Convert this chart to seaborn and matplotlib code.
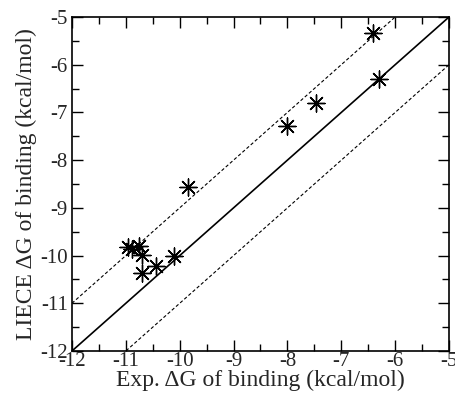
import numpy as np
import pandas as pd
import matplotlib
matplotlib.use('Agg')
import matplotlib.pyplot as plt
import seaborn as sns
from matplotlib.ticker import MultipleLocator

# valores
exp_dg = [-6.41, -6.30, -7.47, -8.00, -9.84, -10.95, -10.89, -10.75, -10.70, -10.70, -10.44, -10.10]
liece_dg = [-5.34, -6.30, -6.81, -7.28, -8.57, -9.83, -9.87, -9.80, -9.98, -10.36, -10.21, -10.01]
limites = [-12, -5]

sns.set_theme(style='ticks')
plt.rcParams['font.family'] = ['Liberation Serif', 'DejaVu Serif']
plt.rcParams['axes.unicode_minus'] = False

df = pd.DataFrame({'exp': exp_dg, 'liece': liece_dg})
df_linha = pd.DataFrame({'x': limites})
df_linha['y'] = df_linha['x']
df_linha['y_sup'] = df_linha['x'] + 1
df_linha['y_inf'] = df_linha['x'] - 1

fig = plt.figure(figsize=(4.55, 3.94), dpi=100)
ax = fig.add_axes([0.158, 0.109, 0.829, 0.848])

# linhas de referência
sns.lineplot(data=df_linha, x='x', y='y', color='black', lw=1.2, ax=ax)
sns.lineplot(data=df_linha, x='x', y='y_sup', color='black', lw=0.8, ax=ax)
sns.lineplot(data=df_linha, x='x', y='y_inf', color='black', lw=0.8, ax=ax)
ax.lines[1].set_dashes([3, 2])
ax.lines[2].set_dashes([3, 2])

# pontos
sns.scatterplot(data=df, x='exp', y='liece', marker=(8, 2, 0), s=150,
                color='black', linewidth=1.0, ax=ax, zorder=3)
sns.scatterplot(data=df, x='exp', y='liece', marker='o', s=6,
                color='black', linewidth=0, ax=ax, zorder=4)

ax.set_xlim(-12, -5)
ax.set_ylim(-12, -5)
ax.xaxis.set_major_locator(MultipleLocator(1))
ax.yaxis.set_major_locator(MultipleLocator(1))
ax.xaxis.set_minor_locator(MultipleLocator(0.5))
ax.yaxis.set_minor_locator(MultipleLocator(0.5))
ax.tick_params(which='both', direction='in', top=True, right=True,
               labelsize=15, width=1.0, color='black')
ax.tick_params(axis='x', pad=1)
ax.tick_params(axis='y', pad=3)
ax.tick_params(which='major', length=8)
ax.tick_params(which='minor', length=5)
for s in ax.spines.values():
    s.set_linewidth(1.2)
    s.set_color('black')

ax.set_xlabel('Exp. ΔG of binding (kcal/mol)', fontsize=17, labelpad=-1)
ax.set_ylabel('LIECE ΔG of binding (kcal/mol)', fontsize=17, labelpad=2)

fig.savefig('out.png', dpi=100)
